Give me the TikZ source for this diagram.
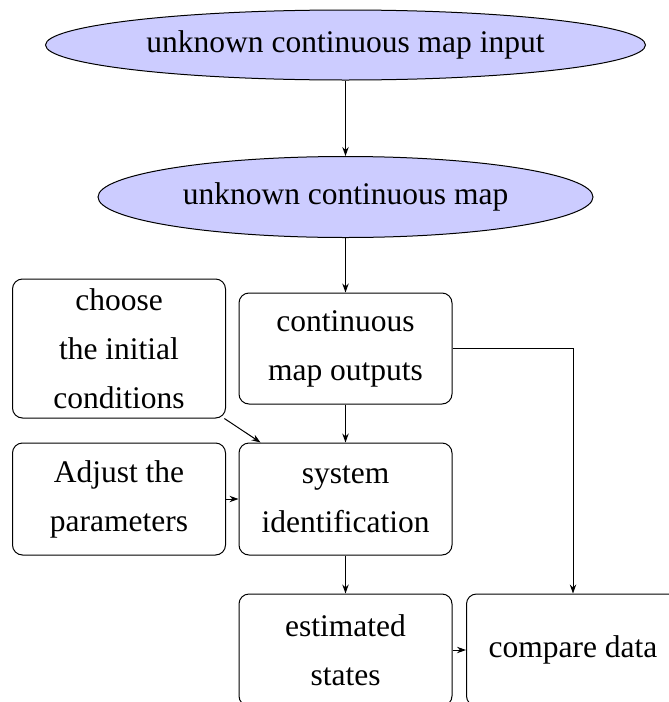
\documentclass[tikz,border=0pt]{standalone}
\usepackage{fontspec}
\setmainfont{Liberation Serif}
\newfontfamily\tnr{Liberation Serif}
\usetikzlibrary{shapes.geometric,arrows.meta}
\tikzset{
  every node/.style={font=\tnr\fontsize{15.75}{24.5}\selectfont},
  ell/.style={ellipse,draw=black,fill=blue!20,inner sep=0pt,line width=0.5pt},
  box/.style={rectangle,rounded corners=5pt,draw=black,line width=0.5pt,align=center,inner sep=0pt,minimum width=106.5pt},
  conn/.style={line width=0.5pt,-{Stealth[length=4.5pt,width=3.2pt]}}
}
\begin{document}
\begin{tikzpicture}[x=0.5pt,y=-0.5pt]
\useasboundingbox (0,0) rectangle (669,702);
\clip (0,0) rectangle (669,702);
\node[ell,minimum width=300pt,minimum height=35pt] (e1) at (345.5,45) {unknown continuous map input};
\node[ell,minimum width=247.5pt,minimum height=40.5pt] (e2) at (345.5,197) {unknown continuous map};
\node[box,minimum height=69.5pt] (choose) at (119,348.5) {choose\\the initial\\conditions};
\node[box,minimum height=55.5pt] (outputs) at (345.5,348.5) {continuous\\map outputs};
\node[box,minimum height=56pt] (adjust) at (119,499) {Adjust the\\parameters};
\node[box,minimum height=56pt] (sysid) at (345.5,499) {system\\identification};
\node[box,minimum height=56pt] (est) at (345.5,650) {estimated\\states};
\node[box,minimum height=56pt] (cmp) at (573,650) {compare data};
\draw[conn] (e1) -- (e2);
\draw[conn] (e2) -- (outputs);
\draw[conn] (outputs) -- (sysid);
\draw[conn] (choose) -- (sysid);
\draw[conn] (adjust) -- (sysid);
\draw[conn] (sysid) -- (est);
\draw[conn] (est) -- (cmp);
\draw[conn] (outputs.east) -| (cmp.north);
\end{tikzpicture}
\end{document}
